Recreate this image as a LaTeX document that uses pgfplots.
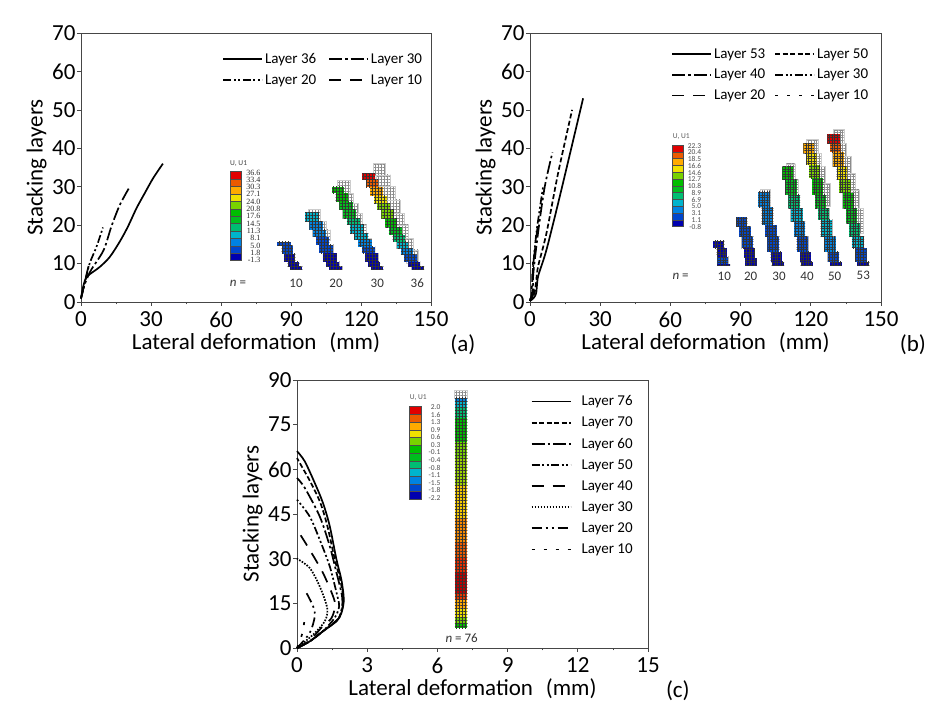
\documentclass[border=0pt]{standalone}
\usepackage{fontspec}
\setmainfont{Carlito}
\newfontfamily\cbserif{Liberation Serif}
\usepackage{pgfplots}
\pgfplotsset{compat=1.18}
\usetikzlibrary{patterns.meta}

% abaqus contour bands, low to high
\definecolor{c1}{RGB}{0,0,175}
\definecolor{c2}{RGB}{0,70,205}
\definecolor{c3}{RGB}{0,130,225}
\definecolor{c4}{RGB}{0,180,205}
\definecolor{c5}{RGB}{0,190,115}
\definecolor{c6}{RGB}{0,190,30}
\definecolor{c7}{RGB}{0,190,0}
\definecolor{c8}{RGB}{120,210,0}
\definecolor{c9}{RGB}{240,225,0}
\definecolor{c10}{RGB}{255,170,0}
\definecolor{c11}{RGB}{235,90,0}
\definecolor{c12}{RGB}{225,0,0}
\definecolor{axisgrey}{RGB}{70,70,70}

\newcommand{\fs}[1]{\fontsize{#1}{#1}\selectfont}
\def\meshd{3pt}
\def\meshw{0.22pt}
% coloured mesh block: colour, x left, x right, y top, y bottom
\newcommand{\blk}[5]{\addplot[draw=none,fill=#1,postaction={pattern={Hatch[distance=\meshd,line width=\meshw]},pattern color=black!80}] coordinates {(#2,#4)(#3,#4)(#3,#5)(#2,#5)} --cycle;}
% undeformed wall, grey cells on white
\newcommand{\ghost}[4]{\addplot[draw=black!20,line width=0.8pt,fill=white,postaction={pattern={Hatch[distance=\meshd,line width=0.25pt]},pattern color=black!45}] coordinates {(#1,#3)(#2,#3)(#2,#4)(#1,#4)} --cycle;}
% legend bar segment
\newcommand{\cbar}[5]{\addplot[draw=black!70,line width=0.4pt,fill=#1] coordinates {(#2,#4)(#3,#4)(#3,#5)(#2,#5)} --cycle;}

\tikzset{
  lsolid/.style={solid},
  ldash/.style={dash pattern=on 5pt off 2.5pt},
  lddot/.style={dash pattern=on 13pt off 3pt on 2.5pt off 3pt},
  ldddot/.style={dash pattern=on 8pt off 2.5pt on 2pt off 2.5pt on 2pt off 2.5pt},
  llong/.style={dash pattern=on 12pt off 9pt},
  ldots/.style={dash pattern=on 1.6pt off 1.4pt},
  lthree/.style={dash pattern=on 10pt off 4pt on 2pt off 4pt on 2pt off 4pt},
  lsparse/.style={dash pattern=on 3pt off 9pt},
}

\pgfplotsset{
  chart/.style={
    scale only axis,
    anchor=south west,
    clip=false,
    axis line style={axisgrey,line width=0.8pt},
    tick style={axisgrey,line width=0.7pt},
    major tick length=4pt,
    minor tick length=2.5pt,
    tick align=outside,
    xtick pos=bottom,
    ytick pos=left,
    minor x tick num=1,
    minor y tick num=0,
    tick label style={font=\fs{23},text=black},
    /pgf/number format/assume math mode=true,
    xticklabel style={yshift=-2.5pt},
    yticklabel style={xshift=2pt},
    label style={font=\fs{23},text=black},
    xlabel style={at={(axis description cs:0.5,0)},anchor=center,yshift=-40.5pt},
    ylabel style={at={(axis description cs:0,0.5)},anchor=center,yshift=44.5pt},
    legend cell align=left,
    legend image code/.code={\draw[#1,line width=1.7pt] (0pt,0pt) -- (39pt,0pt);},
    every axis plot/.append style={black,line width=1.7pt,no markers,smooth,tension=0.5},
  },
  inset/.style={
    scale only axis,
    anchor=south west,
    hide axis,
    clip=false,
    y dir=reverse,
    every axis plot/.append style={no markers,sharp plot},
  },
}

\begin{document}
\begin{tikzpicture}
\path[use as bounding box] (0pt,0pt) rectangle (938pt,707pt);

% ---------- (a) ----------
\begin{axis}[chart,at={(81pt,405pt)},width=350pt,height=269pt,
  xmin=0,xmax=150,ymin=0,ymax=70,
  xtick={0,30,60,90,120,150},ytick={0,10,...,70},
  xlabel={Lateral deformation\,\, (mm)},ylabel={Stacking layers},
  legend columns=2,
  legend style={draw=none,fill=none,at={(0.395,0.94)},anchor=north west,font=\fs{15},
    /tikz/every even column/.append style={column sep=10pt},row sep=5.5pt},
]
\addplot[lsolid] coordinates {(0,0.9)(0.9,3.9)(2,6.1)(3.7,7.2)(8,9.1)(12.3,11.7)(16.6,15.7)(20.1,19.6)(23.7,24.3)(27.3,28.3)(30.9,32.2)(35.1,36)};
\addlegendentry{Layer 36}
\addplot[lddot] coordinates {(0,0.9)(1,3.5)(2.5,6)(4.5,8.5)(9.7,13.5)(13,19.6)(16.6,25.2)(20.9,30)};
\addlegendentry{Layer 30}
\addplot[ldddot] coordinates {(0,0.9)(1.6,4.8)(3.7,10)(6.6,14.3)(9.4,19.4)};
\addlegendentry{Layer 20}
\addplot[llong] coordinates {(0,1)(1.2,4)(2.5,7.5)(3.5,10)};
\addlegendentry{Layer 10}
\node[font=\fs{23},text=black] at (rel axis cs:1.091,-0.16) {(a)};
\end{axis}

% ---------- (b) ----------
\begin{axis}[chart,at={(530pt,405pt)},width=351pt,height=269pt,
  xmin=0,xmax=150,ymin=0,ymax=70,
  xtick={0,30,60,90,120,150},ytick={0,10,...,70},
  xlabel={Lateral deformation\,\, (mm)},ylabel={Stacking layers},
  legend columns=2,
  legend style={draw=none,fill=none,at={(0.394,0.958)},anchor=north west,font=\fs{15},
    /tikz/every even column/.append style={column sep=7pt},row sep=5.5pt},
]
\addplot[lsolid] coordinates {(0,0.3)(1.5,1)(2.6,2.2)(3,4.5)(3.6,7)(7,13.5)(12.7,27.4)(22.7,53)};
\addlegendentry{Layer 53}
\addplot[ldash] coordinates {(0,0.3)(1.8,2)(2.6,5)(3.4,9.1)(7,17.8)(12,33.5)(18,50)};
\addlegendentry{Layer 50}
\addplot[lddot] coordinates {(0,0.3)(1.6,2.5)(1.3,6.5)(3.4,17.8)(6.3,30)(9.6,38.9)};
\addlegendentry{Layer 40}
\addplot[ldddot] coordinates {(0,0.3)(1.2,2.5)(1,6.5)(2.7,17.8)(5.6,30)};
\addlegendentry{Layer 30}
\addplot[llong] coordinates {(0,0.3)(1,3)(1.3,9.1)(2.4,15)(3.4,20.4)};
\addlegendentry{Layer 20}
\addplot[lsparse] coordinates {(0,0.3)(0.8,4)(1.3,10.9)};
\addlegendentry{Layer 10}
\node[font=\fs{23},text=black] at (rel axis cs:1.091,-0.16) {(b)};
\end{axis}

% ---------- (c) ----------
\begin{axis}[chart,at={(297pt,59pt)},width=351pt,height=268pt,
  xmin=0,xmax=15,ymin=0,ymax=90,
  xtick={0,3,6,9,12,15},ytick={0,15,...,90},
  xlabel={Lateral deformation\,\, (mm)},ylabel={Stacking layers},
  legend columns=1,
  legend image code/.code={\draw[#1,line width=1.7pt] (0pt,0pt) -- (39pt,0pt);\path (47pt,0pt);},
  legend style={draw=none,fill=none,at={(0.657,0.957)},anchor=north west,font=\fs{15},row sep=5.8pt},
]
\addplot[lsolid] coordinates {(0,0)(0.54,2.2)(1.11,5.6)(1.69,9)(1.9,11.8)(2,16.2)(1.9,22.8)(1.69,29.6)(1.4,40.9)(1.11,48.7)(0.76,55.4)(0.33,62.7)(0,66.1)};
\addlegendentry{Layer 76}
\addplot[ldash] coordinates {(0,0)(0.54,2.2)(1.1,5.6)(1.68,9)(1.88,11.8)(1.98,16.2)(1.85,22.8)(1.62,29.6)(1.3,40.9)(1,48.7)(0.6,55.4)(0.2,61)(0,63.8)};
\addlegendentry{Layer 70}
\addplot[lddot] coordinates {(0,0)(0.54,2.2)(1.1,5.6)(1.65,9)(1.83,10.6)(1.94,15)(1.9,18.5)(1.69,25.2)(1.4,34.2)(0.97,44.2)(0.33,53.8)(0,57.1)};
\addlegendentry{Layer 60}
\addplot[ldddot] coordinates {(0,0)(0.54,2.2)(1.1,5.6)(1.6,10)(1.8,14)(1.69,18.5)(1.4,27.4)(0.97,36.4)(0.54,44.2)(0,49.8)};
\addlegendentry{Layer 50}
\addplot[llong] coordinates {(0,0)(0.54,2.5)(1.1,7.3)(1.47,10)(1.63,14)(1.54,17.4)(1.11,25.2)(0.54,33)(0,39.8)};
\addlegendentry{Layer 40}
\addplot[ldots] coordinates {(0,0)(0.69,4.5)(1.19,9)(1.29,13.4)(0.97,20.7)(0.54,26.9)(0,30)};
\addlegendentry{Layer 30}
\addplot[lthree] coordinates {(0,0)(0.54,5)(0.76,10.6)(0.69,14)(0.37,19)};
\addlegendentry{Layer 20}
\addplot[lsparse] coordinates {(0,0)(0.23,5)(0.33,10)};
\addlegendentry{Layer 10}
\node[font=\fs{23},text=black] at (rel axis cs:1.085,-0.16) {(c)};
\end{axis}

% ---------- contour inset (a), crop coordinates ----------
\begin{axis}[inset,at={(220pt,407pt)},width=230pt,height=150pt,xmin=0,xmax=690,ymin=0,ymax=450]
\def\meshd{3pt}
\cbar{c12}{30}{63}{65}{87.25}
\cbar{c11}{30}{63}{87.25}{109.5}
\cbar{c10}{30}{63}{109.5}{131.75}
\cbar{c9}{30}{63}{131.75}{154}
\cbar{c8}{30}{63}{154}{176.25}
\cbar{c7}{30}{63}{176.25}{198.5}
\cbar{c6}{30}{63}{198.5}{220.75}
\cbar{c5}{30}{63}{220.75}{243}
\cbar{c4}{30}{63}{243}{265.25}
\cbar{c3}{30}{63}{265.25}{287.5}
\cbar{c2}{30}{63}{287.5}{309.75}
\cbar{c1}{30}{63}{309.75}{332}
% ghost walls
\ghost{265}{302}{178}{215}\ghost{285}{320}{215}{240}\ghost{300}{330}{240}{270}
\ghost{352}{390}{92}{130}\ghost{370}{400}{130}{160}\ghost{385}{415}{160}{190}\ghost{400}{428}{190}{225}\ghost{415}{440}{225}{265}\ghost{430}{455}{265}{300}
\ghost{460}{497}{40}{75}\ghost{468}{510}{75}{110}\ghost{485}{525}{110}{150}\ghost{500}{540}{150}{190}\ghost{515}{552}{190}{225}\ghost{530}{565}{225}{265}\ghost{545}{580}{265}{300}\ghost{560}{595}{300}{340}
% n=10
\blk{c2}{172}{212}{275}{287}\blk{c2}{185}{218}{287}{312}\blk{c1}{192}{226}{312}{335}\blk{c1}{203}{238}{335}{350}\blk{c1}{210}{247}{350}{360}
% n=20
\blk{c4}{255}{298}{187}{215}\blk{c3}{268}{308}{215}{240}\blk{c3}{278}{318}{240}{262}\blk{c2}{288}{328}{262}{285}\blk{c2}{298}{340}{285}{310}\blk{c1}{308}{350}{310}{335}\blk{c1}{318}{358}{335}{350}\blk{c1}{328}{367}{350}{360}
% n=30
\blk{c7}{336}{372}{110}{130}\blk{c7}{347}{385}{130}{155}\blk{c6}{358}{398}{155}{180}\blk{c6}{368}{408}{180}{205}\blk{c5}{380}{420}{205}{225}\blk{c4}{390}{432}{225}{250}\blk{c4}{402}{445}{250}{270}\blk{c3}{415}{455}{270}{290}\blk{c2}{425}{465}{290}{310}\blk{c1}{435}{475}{310}{335}\blk{c1}{445}{480}{335}{350}\blk{c1}{452}{490}{350}{360}
% n=36
\blk{c12}{427}{465}{70}{90}\blk{c11}{438}{475}{90}{112}\blk{c10}{450}{488}{112}{137}\blk{c9}{462}{500}{137}{160}\blk{c8}{472}{510}{160}{180}\blk{c8}{484}{522}{180}{207}\blk{c7}{495}{532}{207}{232}\blk{c6}{506}{545}{232}{255}\blk{c5}{518}{555}{255}{275}\blk{c4}{530}{565}{275}{295}\blk{c3}{542}{578}{295}{315}\blk{c2}{552}{590}{315}{335}\blk{c1}{565}{600}{335}{350}\blk{c1}{575}{612}{350}{360}
\node[anchor=west,font=\fs{7.5},text=black!75,inner sep=0pt] at (axis cs:30,40) {U, U1};
\begin{scope}[every node/.style={anchor=east,font=\cbserif\fs{8},text=black!85,inner sep=0pt}]
\node at (axis cs:122,68) {36.6};\node at (axis cs:122,90) {33.4};\node at (axis cs:122,111) {30.3};\node at (axis cs:122,133) {27.1};\node at (axis cs:122,155) {24.0};\node at (axis cs:122,177) {20.8};\node at (axis cs:122,199) {17.6};\node at (axis cs:122,221) {14.5};\node at (axis cs:122,243) {11.3};\node at (axis cs:122,265) {8.1};\node at (axis cs:122,287) {5.0};\node at (axis cs:122,309) {1.8};\node at (axis cs:122,331) {-1.3};
\end{scope}
\begin{scope}[every node/.style={font=\fs{13},text=black!80,inner sep=0pt}]
\node at (axis cs:54,400) {\textit{n} =};\node at (axis cs:228,400) {10};\node at (axis cs:348,400) {20};\node at (axis cs:472,400) {30};\node at (axis cs:592,400) {36};
\end{scope}
\end{axis}

% ---------- contour inset (b), crop coordinates ----------
\begin{axis}[inset,at={(660pt,417pt)},width=220pt,height=170pt,xmin=0,xmax=660,ymin=0,ymax=510]
\def\meshd{2.6pt}
\cbar{c12}{38}{70}{75}{95.4}
\cbar{c11}{38}{70}{95.4}{115.8}
\cbar{c10}{38}{70}{115.8}{136.2}
\cbar{c9}{38}{70}{136.2}{156.6}
\cbar{c8}{38}{70}{156.6}{177}
\cbar{c7}{38}{70}{177}{197.4}
\cbar{c6}{38}{70}{197.4}{217.8}
\cbar{c5}{38}{70}{217.8}{238.2}
\cbar{c4}{38}{70}{238.2}{258.6}
\cbar{c3}{38}{70}{258.6}{279}
\cbar{c2}{38}{70}{279}{299.4}
\cbar{c1}{38}{70}{299.4}{320}
% ghost walls
\ghost{300}{330}{208}{262}
\ghost{378}{405}{132}{180}\ghost{390}{415}{180}{230}
\ghost{440}{475}{58}{100}\ghost{452}{483}{100}{140}\ghost{465}{495}{140}{190}\ghost{480}{510}{190}{260}
\ghost{520}{552}{28}{70}\ghost{530}{560}{70}{110}\ghost{545}{575}{110}{160}\ghost{555}{585}{160}{210}\ghost{565}{598}{210}{265}\ghost{580}{610}{265}{340}
% n=10
\blk{c1}{160}{193}{362}{385}\blk{c1}{170}{200}{385}{410}\blk{c2}{172}{205}{410}{432}\blk{c1}{172}{210}{432}{438}
% n=20
\blk{c2}{228}{262}{292}{320}\blk{c2}{238}{272}{320}{350}\blk{c2}{245}{280}{350}{385}\blk{c1}{252}{285}{385}{415}\blk{c1}{255}{290}{415}{438}
% n=30
\blk{c3}{295}{330}{215}{262}\blk{c3}{305}{340}{262}{315}\blk{c2}{315}{350}{315}{350}\blk{c2}{322}{358}{350}{395}\blk{c1}{332}{365}{395}{425}\blk{c1}{335}{372}{425}{438}
% n=40
\blk{c7}{367}{400}{140}{180}\blk{c6}{375}{410}{180}{225}\blk{c5}{385}{420}{225}{265}\blk{c4}{392}{428}{265}{305}\blk{c3}{402}{435}{305}{350}\blk{c2}{410}{445}{350}{395}\blk{c1}{420}{452}{395}{425}\blk{c1}{422}{458}{425}{438}
% n=50
\blk{c10}{430}{462}{70}{100}\blk{c9}{438}{470}{100}{135}\blk{c8}{447}{480}{135}{175}\blk{c7}{457}{490}{175}{225}\blk{c6}{465}{498}{225}{265}\blk{c5}{475}{508}{265}{300}\blk{c4}{482}{517}{300}{350}\blk{c3}{492}{527}{350}{395}\blk{c2}{503}{537}{395}{425}\blk{c1}{510}{545}{425}{438}
% n=53
\blk{c12}{502}{540}{42}{72}\blk{c11}{510}{542}{72}{97}\blk{c10}{518}{552}{97}{140}\blk{c9}{530}{562}{140}{180}\blk{c8}{538}{572}{180}{220}\blk{c7}{548}{582}{220}{265}\blk{c6}{558}{590}{265}{310}\blk{c5}{568}{600}{310}{350}\blk{c4}{575}{612}{350}{385}\blk{c2}{585}{620}{385}{425}\blk{c1}{592}{628}{425}{438}
\node[anchor=west,font=\fs{7.5},text=black!65,inner sep=0pt] at (axis cs:38,50) {U, U1};
\begin{scope}[every node/.style={anchor=east,font=\fs{7.5},text=black!70,inner sep=0pt}]
\node at (axis cs:124,77) {22.3};\node at (axis cs:124,97) {20.4};\node at (axis cs:124,117) {18.5};\node at (axis cs:124,138) {16.6};\node at (axis cs:124,158) {14.6};\node at (axis cs:124,178) {12.7};\node at (axis cs:124,199) {10.8};\node at (axis cs:124,219) {8.9};\node at (axis cs:124,239) {6.9};\node at (axis cs:124,259) {5.0};\node at (axis cs:124,279) {3.1};\node at (axis cs:124,300) {1.1};\node at (axis cs:124,320) {-0.8};
\end{scope}
\begin{scope}[every node/.style={font=\fs{13},text=black!80,inner sep=0pt}]
\node at (axis cs:62,470) {\textit{n} =};\node at (axis cs:193,470) {10};\node at (axis cs:272,470) {20};\node at (axis cs:357,470) {30};\node at (axis cs:441,470) {40};\node at (axis cs:524,470) {50};\node at (axis cs:610,465) {53};
\end{scope}
\end{axis}

% ---------- contour inset (c), crop coordinates ----------
\begin{axis}[inset,at={(400pt,57pt)},width=90pt,height=265pt,xmin=0,xmax=270,ymin=0,ymax=795]
\def\meshd{3pt}
\def\meshw{0.4pt}
\cbar{c12}{29}{63}{65}{88.2}
\cbar{c11}{29}{63}{88.2}{111.3}
\cbar{c10}{29}{63}{111.3}{134.5}
\cbar{c9}{29}{63}{134.5}{157.7}
\cbar{c8}{29}{63}{157.7}{180.8}
\cbar{c7}{29}{63}{180.8}{204}
\cbar{c6}{29}{63}{204}{227.2}
\cbar{c5}{29}{63}{227.2}{250.3}
\cbar{c4}{29}{63}{250.3}{273.5}
\cbar{c3}{29}{63}{273.5}{296.7}
\cbar{c2}{29}{63}{296.7}{319.8}
\cbar{c1}{29}{63}{319.8}{343}
\ghost{164}{202}{16}{40}
\blk{c3}{164}{202}{38}{50}\blk{c4}{164}{202}{50}{65}\blk{c5}{164}{202}{65}{100}\blk{c7}{164}{202}{100}{170}\blk{c8}{164}{202}{170}{220}\blk{c9!65!c7}{164}{202}{220}{300}\blk{c9!60!c10}{164}{202}{300}{400}\blk{c10!60!c11}{164}{202}{400}{470}\blk{c11}{164}{202}{470}{520}\blk{c11!50!c12}{164}{202}{520}{560}\blk{c12!85!black}{164}{202}{560}{625}\blk{c11!60!c12}{164}{202}{625}{645}\blk{c10}{164}{202}{645}{670}\blk{c9}{164}{202}{670}{695}\blk{c8}{164}{202}{695}{715}\blk{c7}{164}{202}{715}{730}
\node[anchor=west,font=\fs{7.5},text=black!65,inner sep=0pt] at (axis cs:29,38) {U, U1};
\begin{scope}[every node/.style={anchor=east,font=\fs{7.5},text=black!70,inner sep=0pt}]
\node at (axis cs:122,67) {2.0};\node at (axis cs:122,89) {1.6};\node at (axis cs:122,112) {1.3};\node at (axis cs:122,134) {0.9};\node at (axis cs:122,157) {0.6};\node at (axis cs:122,179) {0.3};\node at (axis cs:122,202) {-0.1};\node at (axis cs:122,225) {-0.4};\node at (axis cs:122,248) {-0.8};\node at (axis cs:122,270) {-1.1};\node at (axis cs:122,293) {-1.5};\node at (axis cs:122,316) {-1.8};\node at (axis cs:122,338) {-2.2};
\end{scope}
\node[font=\fs{13},text=black!80,inner sep=0pt] at (axis cs:185,758) {\textit{n} = 76};
\end{axis}
\end{tikzpicture}
\end{document}
